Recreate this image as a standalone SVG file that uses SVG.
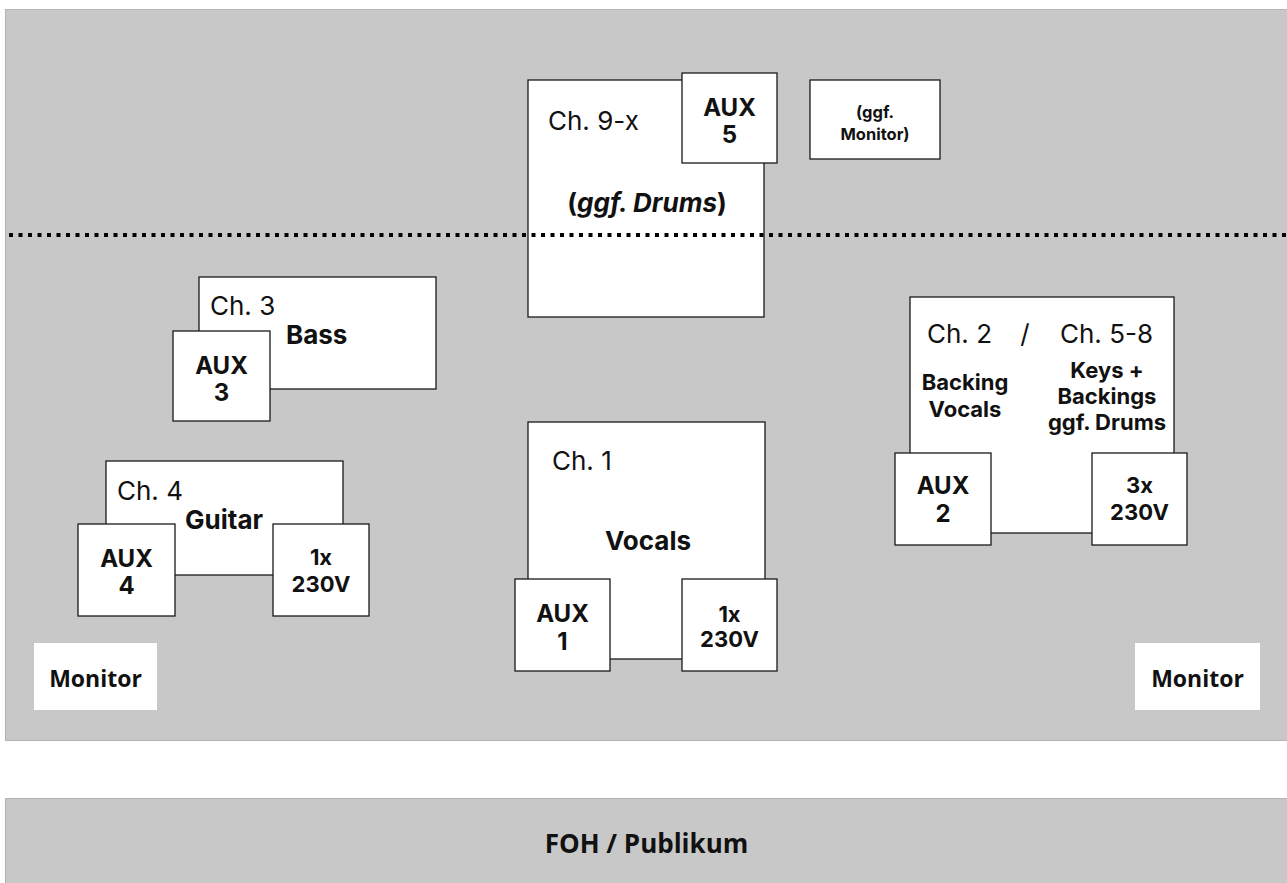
<svg xmlns="http://www.w3.org/2000/svg" width="1287" height="883" viewBox="0 0 1287 883">
<style>
.area{fill:#c8c8c8;stroke:#b4b4b4;stroke-width:1}
.box{fill:#fff;stroke:#1a1a1a;stroke-width:1.3}
.mon{fill:#fff;stroke:none}
.ch{font-family:Inter,"Liberation Sans",sans-serif;font-size:26px;fill:#111}
.lbl{font-family:Inter,"Liberation Sans",sans-serif;font-size:26px;font-weight:bold;fill:#111;text-anchor:middle}
.lbls{font-family:Inter,"Liberation Sans",sans-serif;font-size:26px;font-weight:bold;fill:#111;text-anchor:start}
.aux{font-family:Inter,"Liberation Sans",sans-serif;font-size:24px;font-weight:bold;fill:#111;text-anchor:middle}
.pw{font-family:Inter,"Liberation Sans",sans-serif;font-size:22px;font-weight:bold;fill:#111;text-anchor:middle}
.sm{font-family:Inter,"Liberation Sans",sans-serif;font-size:22px;font-weight:bold;fill:#111;text-anchor:middle}
.os{font-family:"Open Sans","Noto Sans",sans-serif;font-weight:bold;fill:#111;text-anchor:middle}
.gm{font-family:Inter,"Liberation Sans",sans-serif;font-size:16.5px;font-weight:bold;fill:#111;text-anchor:middle}
</style>
<rect id="stage" class="area" x="5.5" y="9.5" width="1290" height="731"/>
<rect id="foh" class="area" x="5.5" y="798.5" width="1290" height="100"/>
<text class="os" x="646.5" y="853" font-size="26">FOH / Publikum</text>

<g id="drums">
<rect class="box" x="528" y="80" width="236" height="237"/>
<text class="ch" x="548" y="130">Ch. 9-x</text>
<text class="lbl" x="647" y="212">(<tspan font-style="italic">ggf. Drums</tspan>)</text>
</g>
<g id="connectors">
<line x1="9" y1="235" x2="1287" y2="235" stroke="#000" stroke-width="4" stroke-dasharray="4 5.5"/>
</g>
<g id="aux5">
<rect class="box" x="682" y="73" width="95" height="90"/>
<text class="aux" x="729.5" y="116">AUX</text>
<text class="aux" x="729.5" y="143">5</text>
</g>
<g id="ggf-monitor">
<rect class="box" x="810" y="80" width="130" height="79"/>
<text class="gm" x="875" y="118">(ggf.</text>
<text class="gm" x="875" y="140">Monitor)</text>
</g>

<g id="bass">
<rect class="box" x="199" y="277" width="237" height="112"/>
<text class="ch" x="210" y="315">Ch. 3</text>
<text class="lbls" x="286" y="344">Bass</text>
</g>
<g id="aux3">
<rect class="box" x="173" y="331" width="97" height="90"/>
<text class="aux" x="221.5" y="374">AUX</text>
<text class="aux" x="221.5" y="401">3</text>
</g>

<g id="guitar">
<rect class="box" x="106" y="461" width="237" height="114"/>
<text class="ch" x="117" y="500">Ch. 4</text>
<text class="lbls" x="185" y="529">Guitar</text>
</g>
<g id="aux4">
<rect class="box" x="78" y="524" width="97" height="92"/>
<text class="aux" x="126.5" y="567">AUX</text>
<text class="aux" x="126.5" y="594">4</text>
</g>
<g id="power-guitar">
<rect class="box" x="273" y="524" width="96" height="92"/>
<text class="pw" x="321" y="565">1x</text>
<text class="pw" x="321" y="592">230V</text>
</g>

<g id="vocals">
<rect class="box" x="528" y="422" width="237" height="237"/>
<text class="ch" x="552" y="470">Ch. 1</text>
<text class="lbl" x="648" y="550">Vocals</text>
</g>
<g id="aux1">
<rect class="box" x="515" y="579" width="95" height="92"/>
<text class="aux" x="562.5" y="622">AUX</text>
<text class="aux" x="562.5" y="650">1</text>
</g>
<g id="power-vocals">
<rect class="box" x="682" y="579" width="95" height="92"/>
<text class="pw" x="729.5" y="622">1x</text>
<text class="pw" x="729.5" y="647">230V</text>
</g>

<g id="keys">
<rect class="box" x="910" y="297" width="264" height="236"/>
<text class="ch" x="927" y="343">Ch. 2</text>
<text class="ch" x="1025" y="343" style="text-anchor:middle">/</text>
<text class="ch" x="1060" y="343">Ch. 5-8</text>
<text class="sm" x="965" y="390">Backing</text>
<text class="sm" x="965" y="417">Vocals</text>
<text class="sm" x="1107" y="378">Keys +</text>
<text class="sm" x="1107" y="404">Backings</text>
<text class="sm" x="1107" y="430">ggf. Drums</text>
</g>
<g id="aux2">
<rect class="box" x="895" y="453" width="96" height="92"/>
<text class="aux" x="943" y="494">AUX</text>
<text class="aux" x="943" y="522">2</text>
</g>
<g id="power-keys">
<rect class="box" x="1092" y="453" width="95" height="92"/>
<text class="pw" x="1139.5" y="493">3x</text>
<text class="pw" x="1139.5" y="520">230V</text>
</g>

<g id="monitor-left">
<rect class="mon" x="34" y="643" width="123" height="67"/>
<text class="os" x="95.5" y="687" font-size="23">Monitor</text>
</g>
<g id="monitor-right">
<rect class="mon" x="1135" y="643" width="125" height="67"/>
<text class="os" x="1197.5" y="687" font-size="23">Monitor</text>
</g>
</svg>
